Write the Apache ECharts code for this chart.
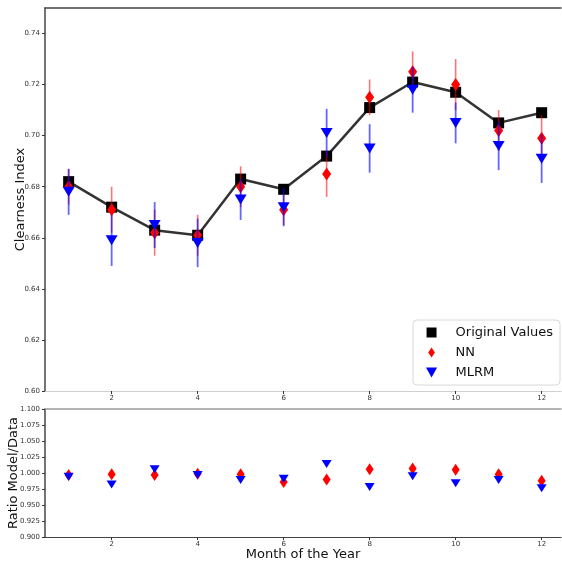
<!DOCTYPE html>
<html>
<head>
    <meta charset="utf-8"/>
    <title>Clearness Index by Month</title>
    <script src="https://cdn.jsdelivr.net/npm/echarts@6/dist/echarts.min.js"></script>
    <style>
        html, body { margin: 0; padding: 0; background: #fff; }
        #main { width: 562px; height: 563px; }
    </style>
</head>
<body>
<div id="main"></div>
<script type="text/javascript">
    // data
    var months = [1, 2, 3, 4, 5, 6, 7, 8, 9, 10, 11, 12]
    var original = [0.682, 0.672, 0.663, 0.661, 0.683, 0.679, 0.692, 0.711, 0.721, 0.717, 0.705, 0.709]
    var nn = [0.680, 0.671, 0.662, 0.661, 0.680, 0.671, 0.685, 0.715, 0.725, 0.720, 0.702, 0.699]
    var nnErr = [0.007, 0.009, 0.009, 0.008, 0.008, 0.006, 0.009, 0.007, 0.008, 0.010, 0.008, 0.009]
    var mlrm = [0.678, 0.659, 0.665, 0.658, 0.675, 0.672, 0.701, 0.695, 0.718, 0.705, 0.696, 0.691]
    var mlrmErr = [0.009, 0.010, 0.009, 0.0095, 0.008, 0.0075, 0.0095, 0.0095, 0.009, 0.008, 0.0095, 0.0095]
    var ratioNN = [0.997, 0.998, 0.997, 0.999, 0.998, 0.986, 0.990, 1.006, 1.007, 1.005, 0.998, 0.988]
    var ratioMLRM = [0.994, 0.982, 1.006, 0.997, 0.989, 0.991, 1.014, 0.978, 0.995, 0.984, 0.989, 0.976]
    var xTicks = [2, 4, 6, 8, 10, 12]
    var yTicksTop = [0.60, 0.62, 0.64, 0.66, 0.68, 0.70, 0.72, 0.74]
    var yTicksBottom = [0.900, 0.925, 0.950, 0.975, 1.000, 1.025, 1.050, 1.075, 1.100]

    var FONT = 'DejaVu Sans'
    var DOWN_TRI = 'path://M0,0L10,0L5,8.7Z'

    function pairs(ys) {
        return months.map(function (m, i) { return [m, ys[i]] })
    }
    function triples(ys, es) {
        return months.map(function (m, i) { return [m, ys[i], es[i]] })
    }
    function errBar(color, width) {
        return function (params, api) {
            var x = api.value(0), y = api.value(1), e = api.value(2)
            var p1 = api.coord([x, y - e]), p2 = api.coord([x, y + e])
            return {
                type: 'line',
                shape: {x1: p1[0], y1: p1[1], x2: p2[0], y2: p2[1]},
                style: {stroke: color, lineWidth: width}
            }
        }
    }

    function xAxisDef(gridIndex, lineColor) {
        return {
            type: 'value', gridIndex: gridIndex, min: 0.45, max: 12.45,
            splitLine: {show: false},
            axisLine: {onZero: false, lineStyle: {color: lineColor, width: 1.2}},
            axisTick: {customValues: xTicks, length: 3, lineStyle: {color: '#333'}},
            axisLabel: {customValues: xTicks, fontSize: 7, fontFamily: FONT, color: '#333', margin: 4}
        }
    }
    function topSpine(gridIndex, lineColor) {
        return {
            type: 'value', gridIndex: gridIndex, position: 'top', min: 0.45, max: 12.45,
            splitLine: {show: false},
            axisLine: {onZero: false, lineStyle: {color: lineColor, width: 1.5}},
            axisTick: {show: false}, axisLabel: {show: false}
        }
    }

    var chart = echarts.init(document.getElementById('main'))
    chart.setOption({
        animation: false,
        backgroundColor: '#fff',
        grid: [
            {left: 45, top: 8, width: 516, height: 383, outerBoundsMode: 'none', containLabel: false},
            {left: 45, top: 409, width: 516, height: 128, outerBoundsMode: 'none', containLabel: false}
        ],
        legend: {
            left: 413, top: 320,
            orient: 'vertical',
            itemWidth: 38, itemHeight: 10, itemGap: 7,
            padding: [6, 7, 6, 13],
            backgroundColor: 'rgba(255,255,255,0.85)',
            borderColor: '#d8d8d8', borderWidth: 1, borderRadius: 4,
            textStyle: {fontFamily: FONT, fontSize: 13, color: '#111'},
            data: [
                {name: 'Original Values', icon: 'path://M0,0h10v10h-10z'},
                {name: 'NN', icon: 'path://M5,0L10,7.5L5,15L0,7.5Z'},
                {name: 'MLRM', icon: 'path://M0,0L10,0L5,9Z'}
            ]
        },
        xAxis: [
            xAxisDef(0, '#cfcfcf'),
            topSpine(0, '#444'),
            Object.assign(xAxisDef(1, '#444'), {
                name: 'Month of the Year', nameLocation: 'middle', nameGap: 11, nameMoveOverlap: false,
                nameTextStyle: {fontFamily: FONT, fontSize: 13, color: '#111', verticalAlign: 'top'}
            }),
            topSpine(1, '#9a9a9a')
        ],
        yAxis: [
            {
                type: 'value', gridIndex: 0, min: 0.60, max: 0.75,
                name: 'Clearness Index', nameLocation: 'middle', nameGap: 18, nameMoveOverlap: false,
                nameTextStyle: {fontFamily: FONT, fontSize: 13, color: '#111'},
                splitLine: {show: false},
                axisLine: {show: true, lineStyle: {color: '#444', width: 1.5}},
                axisTick: {show: true, customValues: yTicksTop, length: 3, lineStyle: {color: '#333'}},
                axisLabel: {
                    customValues: yTicksTop, fontSize: 7, fontFamily: FONT, color: '#333', margin: 5,
                    formatter: function (v) { return v.toFixed(2) }
                }
            },
            {
                type: 'value', gridIndex: 1, min: 0.9, max: 1.1,
                name: 'Ratio Model/Data', nameLocation: 'middle', nameGap: 25, nameMoveOverlap: false,
                nameTextStyle: {fontFamily: FONT, fontSize: 13, color: '#111'},
                splitLine: {show: false},
                axisLine: {show: true, lineStyle: {color: '#444', width: 1.5}},
                axisTick: {show: true, customValues: yTicksBottom, length: 3, lineStyle: {color: '#333'}},
                axisLabel: {
                    customValues: yTicksBottom, fontSize: 7, fontFamily: FONT, color: '#333', margin: 5,
                    formatter: function (v) { return v.toFixed(3) }
                }
            }
        ],
        series: [
            {
                name: 'Original Values', type: 'line', xAxisIndex: 0, yAxisIndex: 0,
                data: pairs(original), z: 2,
                lineStyle: {color: '#333', width: 2.5},
                symbol: 'rect', symbolSize: 11,
                itemStyle: {color: '#000', opacity: 1}
            },
            {
                type: 'custom', xAxisIndex: 0, yAxisIndex: 0, z: 3,
                renderItem: errBar('rgba(255,0,0,0.55)', 1.6),
                data: triples(nn, nnErr)
            },
            {
                name: 'NN', type: 'scatter', xAxisIndex: 0, yAxisIndex: 0, z: 4,
                data: pairs(nn), symbol: 'diamond', symbolSize: [9, 13],
                itemStyle: {color: '#ff0000', opacity: 1}
            },
            {
                type: 'custom', xAxisIndex: 0, yAxisIndex: 0, z: 5,
                renderItem: errBar('rgba(0,0,255,0.6)', 1.8),
                data: triples(mlrm, mlrmErr)
            },
            {
                name: 'MLRM', type: 'scatter', xAxisIndex: 0, yAxisIndex: 0, z: 6,
                data: pairs(mlrm), symbol: DOWN_TRI, symbolSize: [12, 10],
                itemStyle: {color: '#0000ff', opacity: 1}
            },
            {
                name: 'NN', type: 'scatter', xAxisIndex: 2, yAxisIndex: 1, z: 4,
                data: pairs(ratioNN), symbol: 'diamond', symbolSize: [8, 12],
                itemStyle: {color: '#ff0000', opacity: 1}
            },
            {
                name: 'MLRM', type: 'scatter', xAxisIndex: 2, yAxisIndex: 1, z: 6,
                data: pairs(ratioMLRM), symbol: DOWN_TRI, symbolSize: [10, 8],
                itemStyle: {color: '#0000ff', opacity: 1}
            }
        ]
    })
</script>
</body>
</html>
